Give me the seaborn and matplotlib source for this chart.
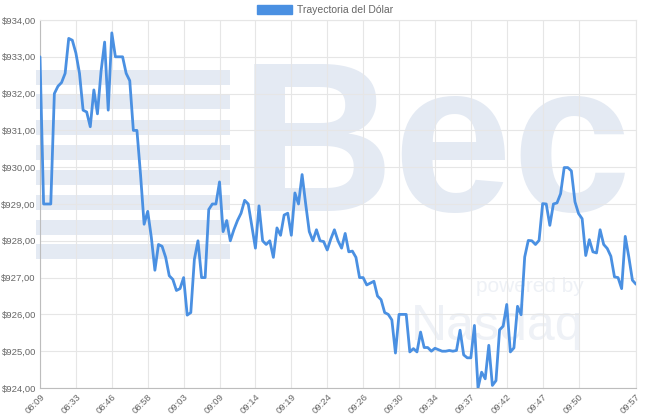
import numpy as np
import matplotlib
matplotlib.use("Agg")
import matplotlib.pyplot as plt
from matplotlib.patches import Patch, Rectangle
from matplotlib.ticker import FuncFormatter, FixedLocator
import seaborn as sns

# precio del dólar, un punto por consulta (167 puntos)
valores = [
    933.0, 929.0, 929.0, 929.0, 932.0, 932.2, 932.3, 932.55, 933.5, 933.45,
    933.1, 932.55, 931.55, 931.5, 931.1, 932.1, 931.45, 932.6, 933.4, 931.55,
    933.65, 933.0, 933.0, 933.0, 932.55, 932.35, 931.0, 931.0, 929.8, 928.45,
    928.8, 928.1, 927.2, 927.9, 927.85, 927.55, 927.05, 926.95, 926.65, 926.7,
    927.0, 925.98, 926.05, 927.5, 928.0, 927.0, 927.0, 928.85, 929.0, 929.0,
    929.6, 928.25, 928.55, 928.0, 928.3, 928.55, 928.75, 929.1, 929.0, 928.4,
    927.8, 928.95, 928.0, 927.9, 928.0, 927.55, 928.35, 928.15, 928.7, 928.75,
    928.15, 929.3, 929.0, 929.8, 929.0, 928.25, 928.0, 928.3, 928.0, 927.98,
    927.75, 928.05, 928.3, 928.0, 927.8, 928.2, 927.7, 927.72, 927.55, 927.0,
    927.0, 926.8, 926.85, 926.9, 926.5, 926.4, 926.05, 926.0, 925.85, 924.95,
    926.0, 926.0, 926.0, 924.98, 925.07, 924.98, 925.52, 925.1, 925.1, 925.0,
    925.08, 925.04, 925.0, 925.0, 925.02, 925.0, 925.02, 925.57, 924.9, 924.82,
    924.82, 925.7, 924.0, 924.43, 924.25, 925.16, 924.07, 924.2, 925.58, 925.68,
    926.27, 924.98, 925.09, 926.22, 925.99, 927.56, 928.01, 928.0, 927.9, 928.01,
    929.01, 929.0, 928.42, 929.0, 929.03, 929.28, 929.99, 929.99, 929.9, 929.06,
    928.74, 928.6, 927.6, 928.03, 927.7, 927.67, 928.3, 927.9, 927.79, 927.58,
    927.02, 927.0, 926.7, 928.12, 927.56, 926.93, 926.82,
]
tick_pos = [0, 10, 20, 30, 40, 50, 60, 70, 80, 90, 100, 110, 120, 130, 140, 150, 166]
tick_labels = ["08:09", "08:33", "08:46", "08:58", "09:03", "09:09", "09:14", "09:19",
               "09:24", "09:26", "09:30", "09:34", "09:37", "09:42", "09:47", "09:50", "09:57"]
y_ticks = [924, 925, 926, 927, 928, 929, 930, 931, 932, 933, 934]
serie = "Trayectoria del Dólar"

azul = "#4a90e2"
gris = "#666666"
rejilla = "#e6e6e6"
marca = "#e4eaf3"

sns.set_theme(style="white")
plt.rcParams["font.family"] = ["Liberation Sans", "DejaVu Sans"]

fig = plt.figure(figsize=(6.5, 4.2), dpi=100)
ax = fig.add_axes([40 / 650, 32 / 420, 596 / 650, 368 / 420])
ax.set_axisbelow(True)

# marca de agua de fondo (logo)
for top in [70, 94, 120, 145, 170, 195, 220, 244]:
    ax.add_patch(Rectangle((36 / 650, 1 - (top + 15) / 420), 194 / 650, 15 / 420,
                           transform=fig.transFigure, facecolor=marca, edgecolor="none",
                           zorder=0, clip_on=False))
ax.text(0.67, 0.63, "Bec", fontsize=154, fontweight="bold", color=marca,
        ha="center", va="center", zorder=0, transform=fig.transFigure)
ax.text(0.815, 0.318, "powered by", fontsize=15, color="#eef1f6", ha="center",
        va="center", zorder=0, transform=fig.transFigure)
ax.text(0.765, 0.222, "Nasdaq", fontsize=36, color="#eef1f6", ha="center",
        va="center", zorder=0, transform=fig.transFigure)

x = np.arange(len(valores))
sns.lineplot(x=x, y=valores, ax=ax, color=azul, linewidth=2, zorder=3)

ax.set_xlim(0, len(valores) - 1)
ax.set_ylim(924, 934)
ax.xaxis.set_major_locator(FixedLocator(tick_pos))
ax.set_xticklabels(tick_labels, rotation=45, ha="right", rotation_mode="anchor")
ax.set_yticks(y_ticks)
ax.yaxis.set_major_formatter(FuncFormatter(lambda v, p: "$" + f"{v:.2f}".replace(".", ",")))
ax.tick_params(axis="both", labelsize=6.8, colors=gris, length=0)
ax.tick_params(axis="y", pad=3)
ax.tick_params(axis="x", pad=3)
ax.grid(True, color=rejilla, linewidth=0.8)
for s in ["top", "right"]:
    ax.spines[s].set_color(rejilla)
    ax.spines[s].set_linewidth(0.8)
for s in ["left", "bottom"]:
    ax.spines[s].set_color("#bdbdbd")
    ax.spines[s].set_linewidth(0.8)

fig.legend(handles=[Patch(facecolor=azul, edgecolor=azul)], labels=[serie],
           loc="center", bbox_to_anchor=(0.5, 0.976), frameon=False,
           handlelength=3.4, handleheight=1.0, handletextpad=0.5, fontsize=7.5,
           labelcolor=gris)

fig.savefig("out.png", dpi=100)
